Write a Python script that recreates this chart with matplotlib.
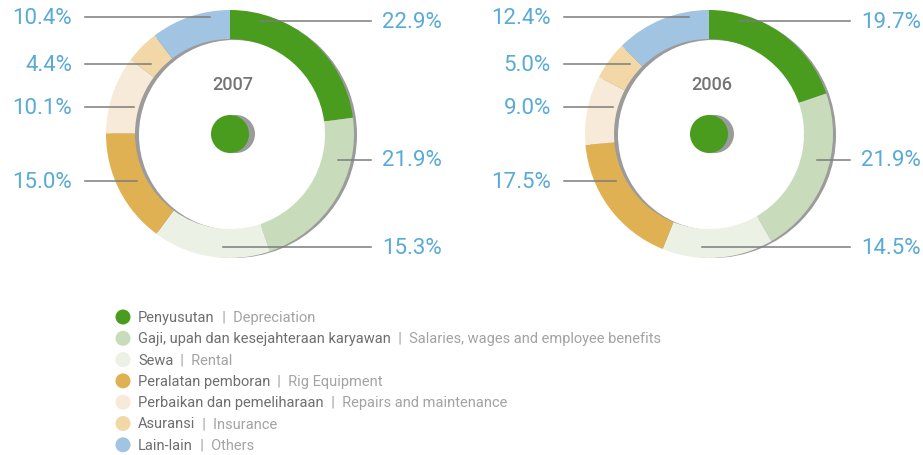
import matplotlib
matplotlib.use("Agg")
import matplotlib.pyplot as plt
from matplotlib.patches import Circle

W, H = 923, 456

# --- data -----------------------------------------------------------------
categories_id = ["Penyusutan", "Gaji, upah dan kesejahteraan karyawan", "Sewa",
                 "Peralatan pemboran", "Perbaikan dan pemeliharaan", "Asuransi",
                 "Lain-lain"]
categories_en = ["Depreciation", "Salaries, wages and employee benefits", "Rental",
                 "Rig Equipment", "Repairs and maintenance", "Insurance", "Others"]
years = ["2007", "2006"]
share_2007 = [22.9, 21.9, 15.3, 15.0, 10.1, 4.4, 10.4]
share_2006 = [19.7, 21.9, 14.5, 17.5, 9.0, 5.0, 12.4]

colors = ["#4a9c1f", "#c8dcbb", "#ebf1e4", "#e0b152", "#f7ead8", "#f1d8a6", "#a0c4e1"]
SHADOW = "#9b9b9b"
LABEL_BLUE = "#58aad8"

# --- layout (pixel units, y measured downward from the top edge) -----------
centers = [(230, 135), (709, 135)]
R_OUT, R_IN = 124, 95
# per category: label row offset from centre, leader tip x-offset, label side
leader_dy = [-113, 26, 113, 47, -27, -70, -117]
leader_tip = [30, 108, -7, -93, -96, -79, -20]
label_side = ["right", "right", "right", "left", "left", "left", "left"]
RIGHT_LINE, RIGHT_LABEL = 141, 152   # offsets from centre for right-hand labels
LEFT_LINE, LEFT_LABEL = 145, 158     # offsets from centre for left-hand labels

plt.rcParams["font.family"] = ["Roboto", "Liberation Sans", "DejaVu Sans"]
fig = plt.figure(figsize=(W / 100, H / 100), dpi=100)
ax = fig.add_axes([0, 0, 1, 1])


def Y(y):
    return H - y


for (cx, cy), year, vals in zip(centers, years, [share_2007, share_2006]):
    # drop shadow behind the ring
    ax.pie([1], colors=[SHADOW], radius=R_OUT - 1, center=(cx + 4, Y(cy + 1)),
           wedgeprops=dict(width=R_OUT - R_IN - 1, linewidth=0), frame=True)
    ax.pie(vals, colors=colors, startangle=90, counterclock=False, radius=R_OUT,
           center=(cx, Y(cy)), wedgeprops=dict(width=R_OUT - R_IN, linewidth=0),
           frame=True)
    # centre dot with its shadow
    ax.add_patch(Circle((cx + 6, Y(cy)), 19, color=SHADOW, lw=0))
    ax.add_patch(Circle((cx, Y(cy)), 19, color=colors[0], lw=0))
    ax.text(cx + 3, Y(cy - 50), year, ha="center", va="center", fontsize=13,
            fontweight="medium", color="#747474")

    for val, dy, tip, side in zip(vals, leader_dy, leader_tip, label_side):
        y = Y(cy + dy)
        if side == "right":
            ax.plot([cx + tip, cx + RIGHT_LINE], [y, y], color="#7c7c7c", lw=1.1)
            ax.text(cx + RIGHT_LABEL, y, f"{val:.1f}%", ha="left", va="center",
                    fontsize=16, color=LABEL_BLUE)
        else:
            ax.plot([cx - LEFT_LINE, cx + tip], [y, y], color="#7c7c7c", lw=1.1)
            ax.text(cx - LEFT_LABEL, y, f"{val:.1f}%", ha="right", va="center",
                    fontsize=16, color=LABEL_BLUE)

ax.set_xlim(0, W)
ax.set_ylim(0, H)
ax.set_aspect("equal")
ax.axis("off")

# --- legend -------------------------------------------------------------------
LEG_X, LEG_Y0, LEG_STEP = 123, 318, 21.3
for i, (cid, cen, col) in enumerate(zip(categories_id, categories_en, colors)):
    y = Y(LEG_Y0 + i * LEG_STEP)
    ax.add_patch(Circle((LEG_X, y), 7.5, color=col, lw=0))
    t = ax.text(LEG_X + 15, y, cid, ha="left", va="center", fontsize=10.5,
                color="#6e6e6e")
    ax.annotate("  |  " + cen, xy=(1, 0.5), xycoords=t, ha="left", va="center",
                fontsize=10.5, color="#a3a3a3")

fig.savefig("out.png", dpi=100)
